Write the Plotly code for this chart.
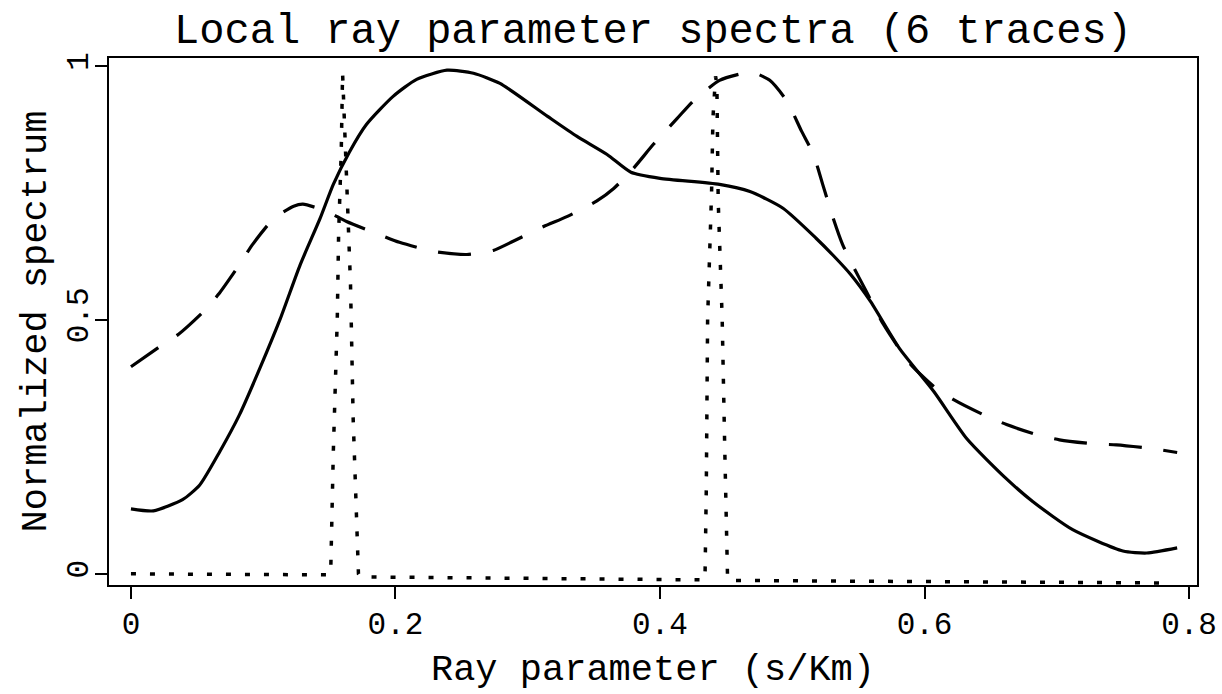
import plotly.graph_objects as go

# ---- data ----
solid_x = [0.000, 0.017, 0.039, 0.052, 0.067, 0.082, 0.0975, 0.113, 0.128, 0.143, 0.153, 0.165,
           0.178, 0.198, 0.216, 0.239, 0.259, 0.279, 0.315, 0.337, 0.360, 0.378, 0.400, 0.445,
           0.468, 0.493, 0.518, 0.531, 0.544, 0.559, 0.581, 0.607, 0.632, 0.662, 0.682, 0.712,
           0.750, 0.768, 0.791]
solid_y = [0.128, 0.124, 0.146, 0.175, 0.240, 0.313, 0.405, 0.503, 0.609, 0.700, 0.767, 0.830,
           0.885, 0.940, 0.974, 0.992, 0.986, 0.966, 0.901, 0.862, 0.826, 0.791, 0.779, 0.767,
           0.753, 0.720, 0.661, 0.627, 0.590, 0.537, 0.444, 0.359, 0.266, 0.187, 0.142, 0.087,
           0.045, 0.041, 0.051]

dashed_x = [0.000, 0.022, 0.036, 0.055, 0.066, 0.082, 0.092, 0.108, 0.123, 0.130, 0.148, 0.163,
            0.188, 0.203, 0.229, 0.254, 0.274, 0.289, 0.312, 0.330, 0.352, 0.365, 0.380, 0.395,
            0.413, 0.425, 0.445, 0.463, 0.470, 0.483, 0.496, 0.507, 0.516, 0.523, 0.531, 0.538,
            0.545, 0.556, 0.569, 0.589, 0.607, 0.622, 0.644, 0.662, 0.685, 0.702, 0.728, 0.745,
            0.771, 0.791]
dashed_y = [0.408, 0.448, 0.472, 0.517, 0.550, 0.609, 0.649, 0.700, 0.724, 0.728, 0.714, 0.694,
            0.668, 0.653, 0.635, 0.629, 0.637, 0.655, 0.684, 0.704, 0.734, 0.759, 0.799, 0.846,
            0.897, 0.931, 0.972, 0.986, 0.988, 0.972, 0.931, 0.872, 0.826, 0.767, 0.700, 0.649,
            0.611, 0.556, 0.491, 0.414, 0.369, 0.343, 0.314, 0.294, 0.274, 0.264, 0.256, 0.254,
            0.247, 0.239]

dotted_x = [0.000, 0.149, 0.151, 0.153, 0.156, 0.157, 0.159, 0.160, 0.163, 0.166, 0.168, 0.171,
            0.172, 0.174, 0.434, 0.435, 0.436, 0.439, 0.440, 0.442, 0.443, 0.444, 0.447, 0.449,
            0.451, 0.452, 0.785]
dotted_y = [0.000, -0.002, 0.000, 0.240, 0.503, 0.669, 0.832, 0.986, 0.780, 0.570, 0.306, 0.043,
            0.000, -0.006, -0.012, 0.168, 0.503, 0.753, 0.897, 0.980, 0.964, 0.734, 0.503, 0.240,
            0.000, -0.013, -0.018]

x_ticks = [0, 0.2, 0.4, 0.6, 0.8]
x_ticktext = ["0", "0.2", "0.4", "0.6", "0.8"]
y_ticks = [0, 0.5, 1]
y_ticktext = ["0", "0.5", "1"]

title_text = "Local ray parameter spectra (6 traces)"
x_title = "Ray parameter (s/Km)"
y_title = "Normalized spectrum"

FONT = "Liberation Mono"

fig = go.Figure()
fig.add_trace(go.Scatter(x=solid_x, y=solid_y, mode="lines",
                         line=dict(color="black", width=3.2, shape="spline", smoothing=0.6),
                         showlegend=False))
fig.add_trace(go.Scatter(x=dashed_x, y=dashed_y, mode="lines",
                         line=dict(color="black", width=3.2, dash="33px,22px", shape="spline", smoothing=0.6),
                         showlegend=False))
fig.add_trace(go.Scatter(x=dotted_x, y=dotted_y, mode="lines",
                         line=dict(color="black", width=3.5, dash="5px,14px"),
                         showlegend=False))

fig.update_layout(
    width=1222, height=694,
    paper_bgcolor="white", plot_bgcolor="white",
    margin=dict(l=109, r=25, t=58, b=109, autoexpand=False),
    font=dict(family=FONT, color="black", size=31),
    title=dict(text=title_text, font=dict(family=FONT, size=42, color="black"),
               x=0.5, xref="paper", xanchor="center",
               y=1 - 28 / 694, yref="container", yanchor="middle"),
)
fig.update_xaxes(
    range=[-0.0166, 0.806], tickvals=x_ticks, ticktext=x_ticktext,
    ticks="outside", ticklen=12, tickwidth=1.5, tickcolor="black",
    showline=True, linecolor="black", linewidth=2, mirror=True,
    showgrid=False, zeroline=False, ticklabelstandoff=-2,
    tickfont=dict(family=FONT, size=31, color="black"),
    title=dict(text=x_title, font=dict(family=FONT, size=37, color="black"), standoff=12),
    automargin=False,
)
fig.update_yaxes(
    range=[-0.022, 1.016], tickvals=y_ticks, ticktext=y_ticktext, tickangle=-90,
    ticks="outside", ticklen=12, tickwidth=1.5, tickcolor="black",
    showline=True, linecolor="black", linewidth=2, mirror=True,
    showgrid=False, zeroline=False, ticklabelstandoff=-5,
    tickfont=dict(family=FONT, size=31, color="black"),
    title=dict(text=y_title, font=dict(family=FONT, size=37, color="black"), standoff=4),
    automargin=False,
)

fig.write_html("out.html")
